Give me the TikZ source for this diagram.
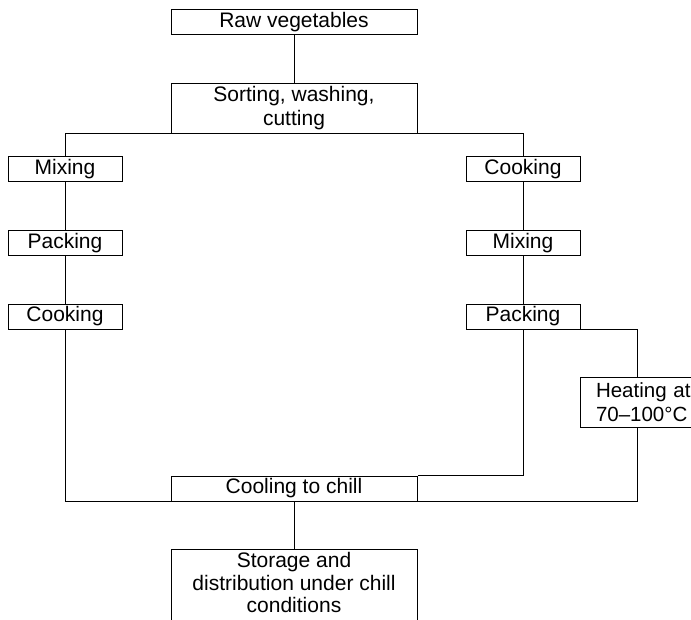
\documentclass[tikz,border=0pt]{standalone}
\usepackage{fontspec}
\setmainfont{Liberation Sans}
\usetikzlibrary{positioning}

\begin{document}
\begin{tikzpicture}[x=1pt,y=-1pt,line width=1pt,
    stepbox/.style={draw,inner sep=0pt,minimum height=25pt,align=center,
      font=\fontsize{21}{23.5}\selectfont},
    wide/.style={stepbox,minimum width=246pt},
    small/.style={stepbox,minimum width=114pt}]
  \useasboundingbox (0,0) rectangle (691,619);
  \clip (0,0) rectangle (691,619);
  % main line
  \node[wide] (raw) at (294,22) {Raw vegetables};
  \node[wide,minimum height=50pt] (sort) at (294,108) {Sorting, washing,\\cutting};
  % left branch
  \node[small] (lmix)  at (65,169)   {Mixing};
  \node[small] (lpack) at (65,243)   {Packing};
  \node[small] (lcook) at (65,316.5) {Cooking};
  % right branch
  \node[small] (rcook) at (523,169)   {Cooking};
  \node[small] (rmix)  at (523,243)   {Mixing};
  \node[small] (rpack) at (523,316.5) {Packing};
  \node[stepbox,minimum height=50pt,text width=82pt,inner xsep=16pt,align=left,
    font=\fontsize{20.5}{23.5}\selectfont] (heat) at (637,402)
    {\mbox{Heating at}\\\mbox{70–100°C}};
  % end
  \node[wide] (cool) at (294,488.5) {Cooling to chill};
  \node[wide,minimum height=0pt,inner ysep=3pt,text depth=14pt,anchor=north,
    font=\fontsize{21}{22.5}\selectfont] (store)
    at (294,549) {Storage and\\distribution under chill\\conditions};
  \draw (raw) -- (sort)
        (lmix.north) |- (sort.south) -| (rcook.north)
        (lmix) -- (lpack) -- (lcook)
        (rcook) -- (rmix) -- (rpack)
        (rpack.south east) -| (heat.north)
        (rpack.south) |- (cool.north east)
        (lcook.south) |- (cool.south) -| (heat.south)
        (cool) -- (store);
\end{tikzpicture}
\end{document}
